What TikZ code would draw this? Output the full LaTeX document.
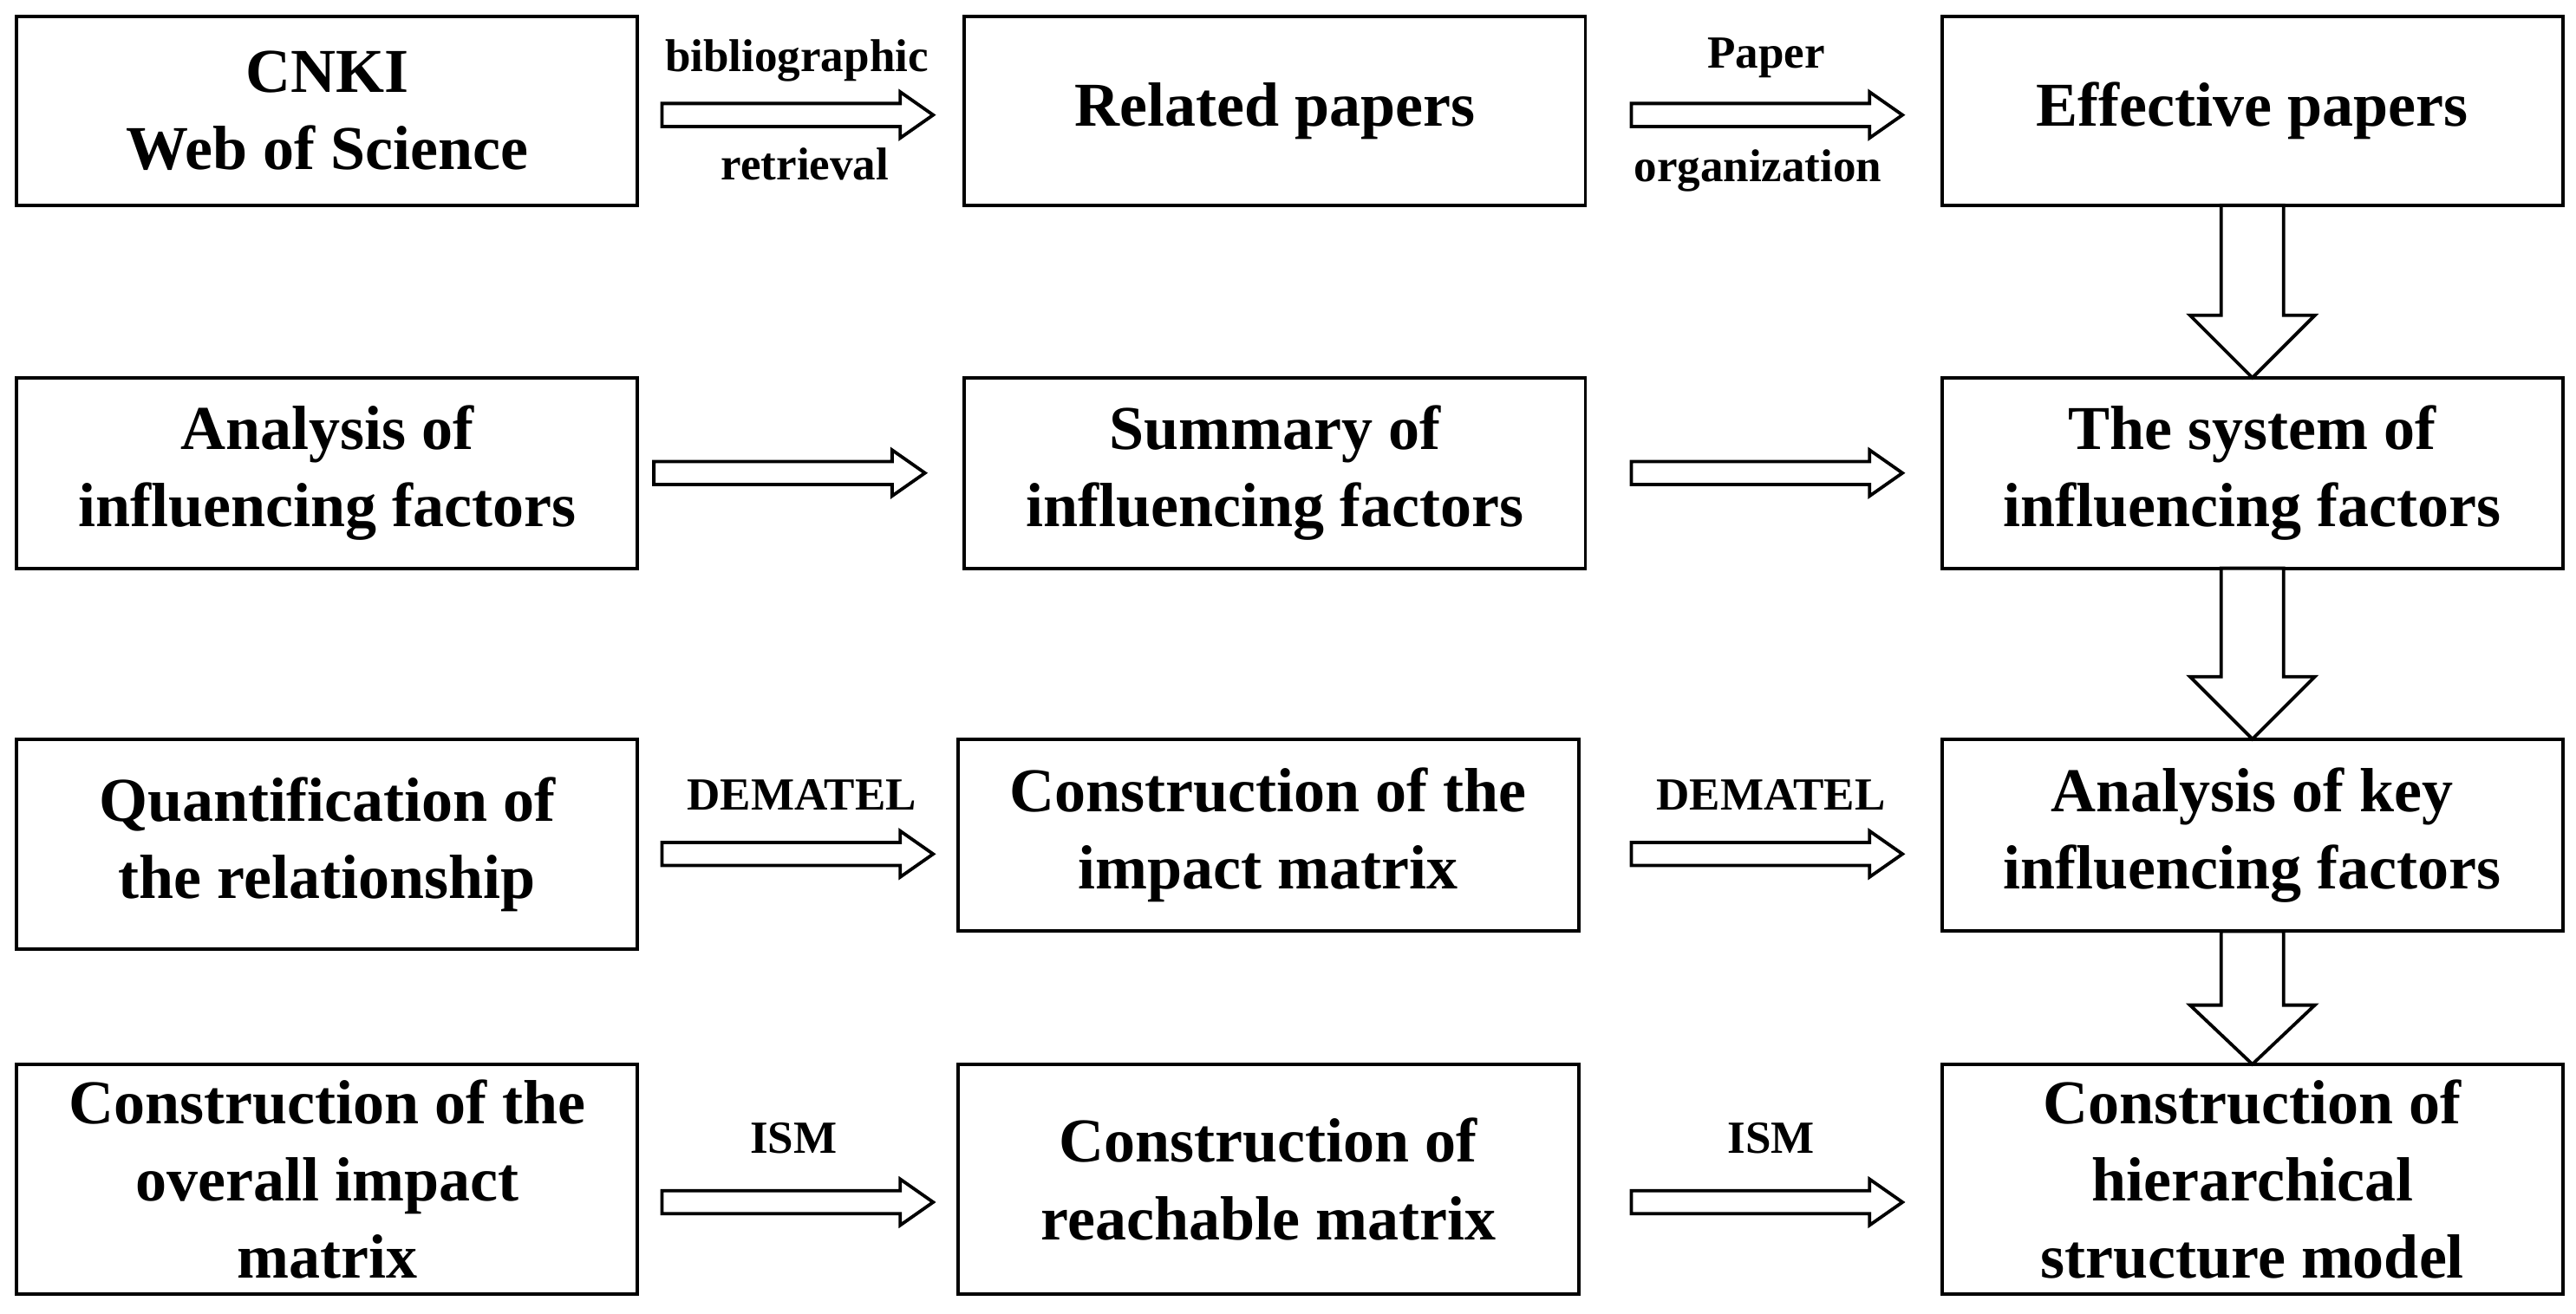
\documentclass[tikz,border=0pt]{standalone}
\usepackage{fontspec}
\setmainfont{Liberation Serif}
\begin{document}
\begin{tikzpicture}[x=0.5pt,y=-0.5pt,
  box/.style={draw,line width=1pt,inner sep=0pt,align=center,font=\fontsize{19}{23.5}\selectfont\bfseries},
  lab/.style={font=\fontsize{14}{16}\selectfont\bfseries,inner sep=0pt},
  blk/.style={draw,line width=1pt,fill=white}]
\useasboundingbox (0,0) rectangle (1568,800);
\newcommand\bx[6]{\node[box,minimum width=#4*0.5pt-#2*0.5pt,minimum height=#5*0.5pt-#3*0.5pt] (#1) at ({(#2+#4)/2},{(#3+#5)/2}) {#6};}
\bx{a1}{10}{10}{388}{125}{CNKI\\Web of Science}
\bx{a2}{587}{10}{965}{125}{Related papers}
\bx{a3}{1182}{10}{1560}{125}{Effective papers}
\bx{b1}{10}{230}{388}{346}{Analysis of\\influencing factors}
\bx{b2}{587}{230}{965}{346}{Summary of\\influencing factors}
\bx{b3}{1182}{230}{1560}{346}{The system of\\influencing factors}
\bx{c1}{10}{450}{388}{578}{Quantification of\\the relationship}
\bx{c2}{583}{450}{961}{567}{Construction of the\\impact matrix}
\bx{c3}{1182}{450}{1560}{567}{Analysis of key\\influencing factors}
\bx{d1}{10}{648}{388}{788}{Construction of the\\overall impact\\matrix}
\bx{d2}{583}{648}{961}{788}{Construction of\\reachable matrix}
\bx{d3}{1182}{648}{1560}{788}{Construction of\\hierarchical\\structure model}
% horizontal block arrows: x1 x2 y
\newcommand\ha[3]{\draw[blk] (#1,#3-7) -- (#2-20,#3-7) -- (#2-20,#3-14) -- (#2,#3) -- (#2-20,#3+14) -- (#2-20,#3+7) -- (#1,#3+7) -- cycle;}
\ha{403}{568}{70}\ha{993}{1158}{70}
\ha{398}{563}{288}\ha{993}{1158}{288}
\ha{403}{568}{520}\ha{993}{1158}{520}
\ha{403}{568}{732}\ha{993}{1158}{732}
% vertical: y1 yhead y2
\newcommand\va[3]{\draw[blk] (1352,#1) -- (1390,#1) -- (1390,#2) -- (1409,#2) -- (1371,#3) -- (1333,#2) -- (1352,#2) -- cycle;}
\va{125}{192}{230}\va{346}{412}{450}\va{567}{612}{648}
\node[lab] (l1) at (485,37) {bibliographic};
\node[lab] (l2) at (490,100) {retrieval};
\node[lab] (l3) at (1075,35) {Paper};
\node[lab] (l4) at (1070,104) {organization};
\node[lab] (l5) at (488,484) {DEMATEL};
\node[lab] (l6) at (1078,484) {DEMATEL};
\node[lab] (l7) at (483,693) {ISM};
\node[lab] (l8) at (1078,693) {ISM};
\end{tikzpicture}
\end{document}
